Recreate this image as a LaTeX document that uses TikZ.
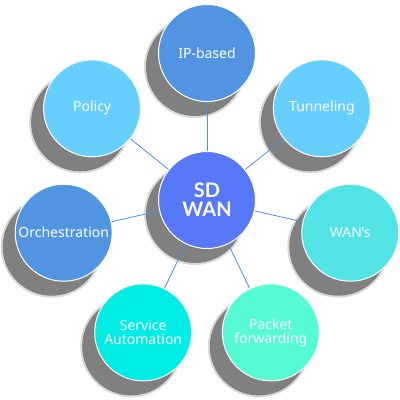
\documentclass[tikz,border=0pt]{standalone}
\usepackage{fontspec}
\setmainfont{Noto Sans}
\newfontfamily\hubfont{Lato}[FakeBold=0]
\definecolor{shadowgray}{RGB}{128,128,128}
\definecolor{linkblue}{RGB}{74,144,226}
\definecolor{hubblue}{RGB}{87,121,249}
\definecolor{midblue}{RGB}{81,149,226}
\definecolor{skyblue}{RGB}{102,207,254}
\definecolor{aquacol}{RGB}{82,227,228}
\definecolor{mintcol}{RGB}{86,251,211}
\definecolor{turqcol}{RGB}{0,237,230}
\begin{document}
\begin{tikzpicture}[x=1pt,y=1pt,
  bubble/.style={circle, minimum size=97pt, inner sep=0pt, fill=#1, draw=white,
    line width=1pt, text=white, font=\fontsize{14}{17}\selectfont, align=center},
  hub/.style={bubble=hubblue, font=\hubfont\fontsize{20}{22}\selectfont\bfseries},
  link/.style={draw=linkblue, line width=0.8pt}]
\useasboundingbox (0,0) rectangle (400,-400);
% shadows
\foreach \px/\py in {207/-200,207/-53,321.9/-108.3,350.3/-232.7,270.8/-332.4,143.2/-332.4,63.7/-232.7,92.1/-108.3}{
  \path[fill=shadowgray, fill opacity=0.3] (\px-12,\py-14) circle (51);
  \path[fill=shadowgray] (\px-12,\py-14) circle (49);
}
% coordinates of the bubbles
\coordinate (pc) at (207,-200);
\coordinate (p1) at (207,-53);
\coordinate (p2) at (321.9,-108.3);
\coordinate (p3) at (350.3,-232.7);
\coordinate (p4) at (270.8,-332.4);
\coordinate (p5) at (143.2,-332.4);
\coordinate (p6) at (63.7,-232.7);
\coordinate (p7) at (92.1,-108.3);
% links
\foreach \i in {1,...,7}{
  \draw[link] (pc) -- (p\i);
}
% bubbles
\node[hub] (hub) at (pc) {SD\\[-3pt]WAN};
\node[bubble=midblue] (ip) at (p1) {IP-based};
\node[bubble=skyblue] (tun) at (p2) {Tunneling};
\node[bubble=aquacol] (wan) at (p3) {WAN’s};
\node[bubble=mintcol] (pkt) at (p4) {Packet\\[-3pt]forwarding};
\node[bubble=turqcol] (svc) at (p5) {Service\\[-3pt]Automation};
\node[bubble=midblue] (orc) at (p6) {Orchestration};
\node[bubble=skyblue] (pol) at (p7) {Policy};
\end{tikzpicture}
\end{document}
